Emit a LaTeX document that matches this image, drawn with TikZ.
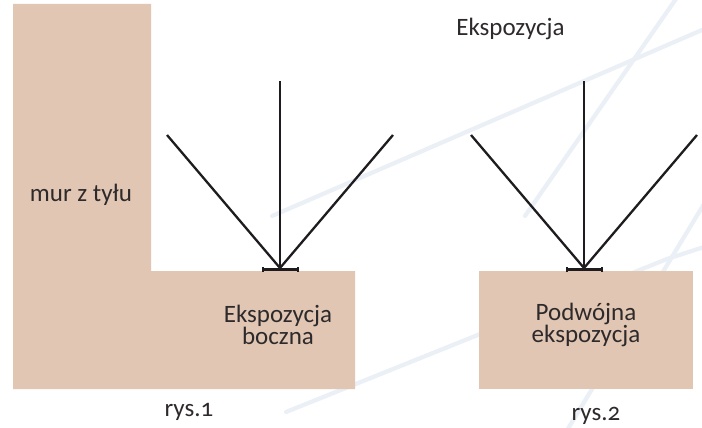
\documentclass[tikz,border=0pt]{standalone}
\usepackage{fontspec}
\setmainfont[Numbers=OldStyle]{Carlito}
\usetikzlibrary{arrows.meta}
\definecolor{wall}{HTML}{E1C6B3}
\definecolor{streak}{HTML}{EBF0F6}
\definecolor{ink}{HTML}{1E1C1E}
\definecolor{txt}{HTML}{2E2A2B}
\tikzset{
  x=1pt,y=-1pt,
  ray/.style={draw=ink,line width=2.3pt},
  bar/.style={draw=ink,line width=2.3pt,{|[width=5pt,length=1.2pt]}-{|[width=5pt,length=1.2pt]}},
  lbl/.style={text=txt,font=\fontsize{25}{22.5}\selectfont,align=center,inner sep=0pt},
  streakline/.style={draw=streak,line width=4.2pt,line cap=round,line join=round},
  block/.style={fill=wall,draw=none}
}
\begin{document}
\begin{tikzpicture}
\useasboundingbox (0,0) rectangle (702,428);
\fill[white] (0,0) rectangle (702,428);
% pale streaks
\draw[streakline] (272,216) -- (702,30);
\draw[streakline] (678,-4) -- (525,216);
\draw[streakline] (286,412) -- (667,259) -- (704,247);
\draw[streakline] (566,432) -- (704,204);
% blocks
\fill[block] (13,4) -- (151,4) -- (151,271) -- (355,271) -- (355,389) -- (13,389) -- cycle;
\fill[block] (479,271) rectangle (693,389);
% fans
\coordinate (a) at (280,268);
\coordinate (b) at (584,268);
\coordinate (a1) at (167,135); \coordinate (a2) at (280,81); \coordinate (a3) at (393,135);
\coordinate (b1) at (471,135); \coordinate (b2) at (584,81); \coordinate (b3) at (697,135);
\draw[ray] (a) -- (a1); \draw[ray] (a) -- (a2); \draw[ray] (a) -- (a3);
\draw[ray] (b) -- (b1); \draw[ray] (b) -- (b2); \draw[ray] (b) -- (b3);
\coordinate (al) at (262,269.5); \coordinate (ar) at (299,269.5);
\coordinate (bl) at (566,269.5); \coordinate (br) at (603,269.5);
\draw[bar] (al) -- (ar);
\draw[bar] (bl) -- (br);
% labels
\node[lbl] (title) at (510.5,29) {Ekspozycja};
\node[lbl] (mur) at (81,195) {mur z tyłu};
\node[lbl] (eb) at (278,325) {Ekspozycja\\boczna};
\node[lbl] (pe) at (586,325) {Podwójna\\ekspozycja};
\node[lbl] (r1) at (189,412) {rys.1};
\node[lbl] (r2) at (596,416) {rys.2};
\end{tikzpicture}
\end{document}
